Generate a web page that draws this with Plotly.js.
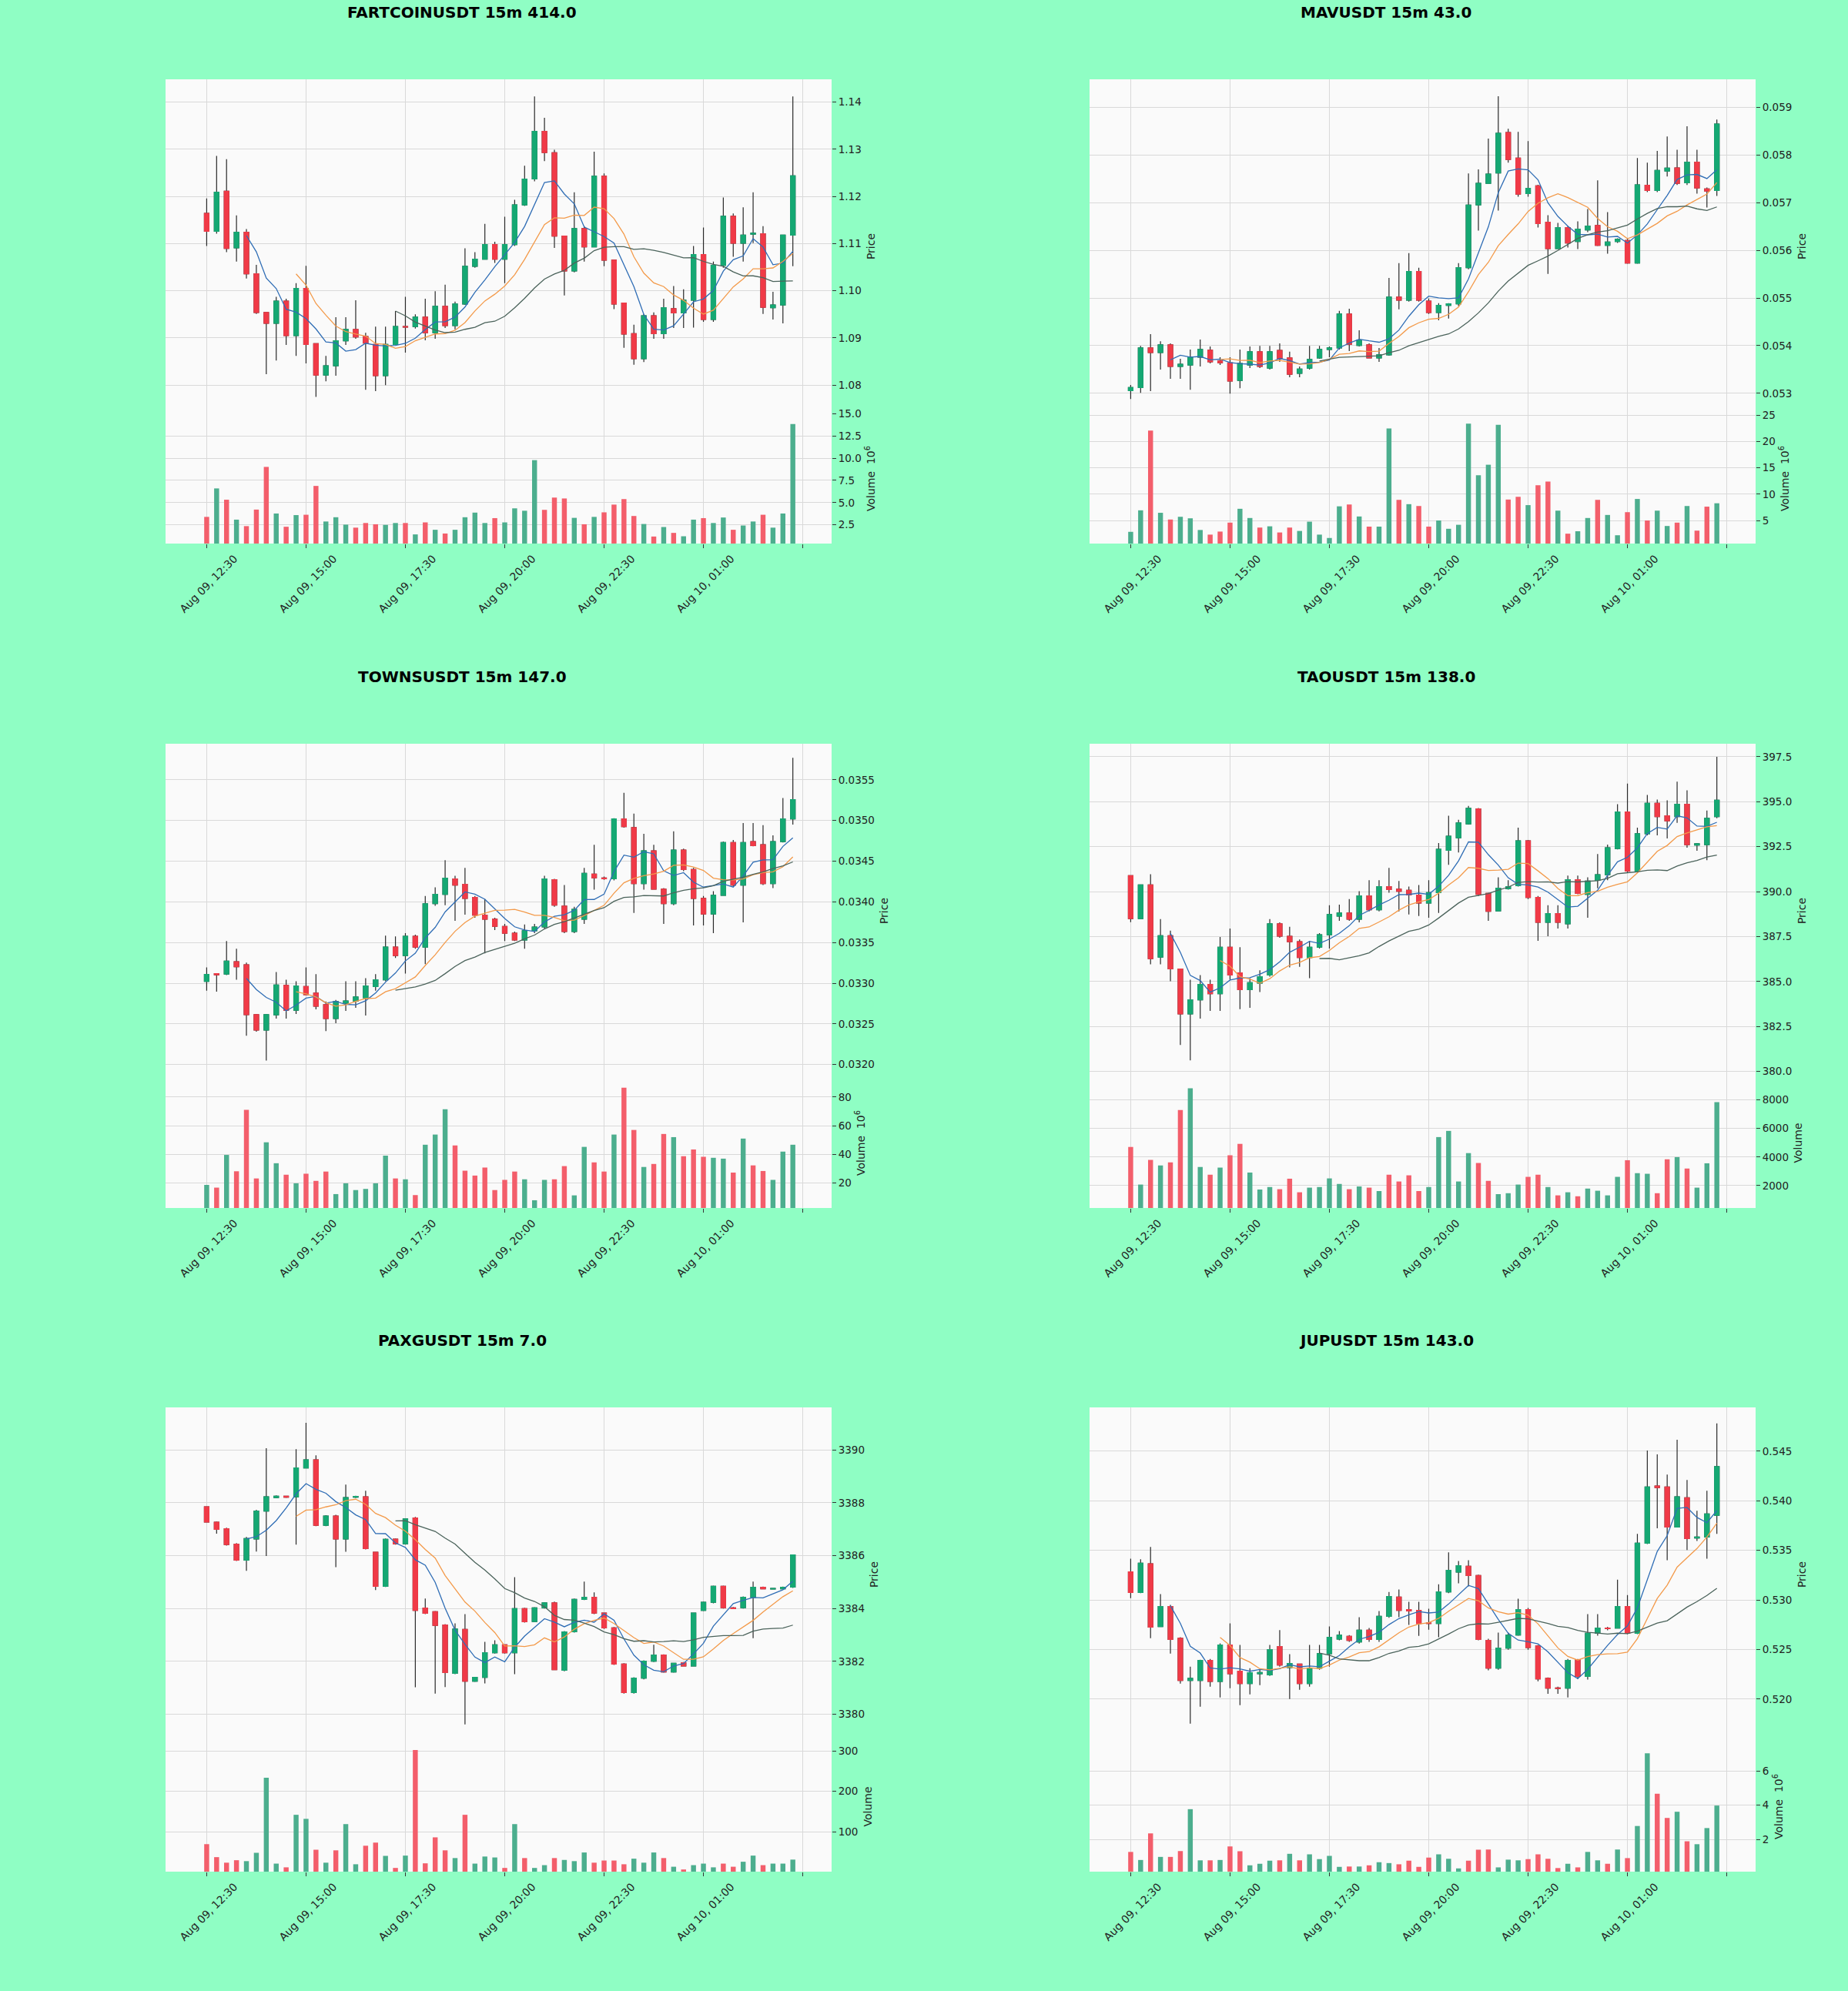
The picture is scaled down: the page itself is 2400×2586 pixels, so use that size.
<!DOCTYPE html>
<html>
<head>
<meta charset="utf-8">
<script src="https://cdn.plot.ly/plotly-3.0.1.min.js"></script>
<style>html,body{margin:0;padding:0;background:#8ffec4;}</style>
</head>
<body>
<div id="chart" style="width:2400px;height:2586px;"></div>
<script>
// ---------- tick labels ----------
const tickPositions = [0, 10, 20, 30, 40, 50, 60];
const tickLabels = ['Aug 09, 12:30', 'Aug 09, 15:00', 'Aug 09, 17:30', 'Aug 09, 20:00', 'Aug 09, 22:30', 'Aug 10, 01:00', '\u00a0'];

// ---------- FARTCOINUSDT ----------
const fartOpen  = [1.1164,1.1126,1.1211,1.1091,1.1124,1.1036,1.0954,1.0931,1.0978,1.0905,1.1005,1.0888,1.0821,1.0841,1.0894,1.0918,1.0903,1.0886,1.0820,1.0886,1.0924,1.0924,1.0944,1.0911,1.0967,1.0926,1.0972,1.1052,1.1067,1.1098,1.1067,1.1098,1.1182,1.1237,1.1338,1.1293,1.1116,1.1042,1.1132,1.1093,1.1243,1.1065,1.0974,1.0909,1.0856,1.0947,1.0909,1.0962,1.0953,1.0980,1.1077,1.0939,1.1054,1.1158,1.1101,1.1120,1.1121,1.0964,1.0970,1.1118];
const fartHigh  = [1.1196,1.1286,1.1279,1.1160,1.1131,1.1055,1.0955,1.0987,1.0983,1.1016,1.1053,1.0888,1.0862,1.0944,1.0944,1.0980,1.0911,1.0924,1.0924,1.0957,1.0987,1.0950,1.0983,1.0999,1.1013,1.0977,1.1090,1.1082,1.1142,1.1104,1.1157,1.1193,1.1265,1.1412,1.1367,1.1299,1.1117,1.1209,1.1137,1.1295,1.1249,1.1066,1.0975,1.0928,1.0951,1.0954,1.0983,1.1010,1.1003,1.1095,1.1134,1.1062,1.1198,1.1164,1.1177,1.1209,1.1137,1.0998,1.1118,1.1412];
const fartLow   = [1.1095,1.1121,1.1082,1.1062,1.1026,1.0951,1.0823,1.0852,1.0885,1.0862,1.0846,1.0775,1.0808,1.0820,1.0885,1.0898,1.0790,1.0787,1.0800,1.0885,1.0869,1.0920,1.0895,1.0898,1.0921,1.0918,1.0970,1.1049,1.1066,1.1059,1.1016,1.1095,1.1180,1.1232,1.1275,1.1091,1.0990,1.1039,1.1062,1.1092,1.1052,1.0961,1.0879,1.0843,1.0849,1.0898,1.0898,1.0921,1.0921,1.0922,1.0934,1.0934,1.1049,1.1072,1.1062,1.1101,1.0951,1.0939,1.0931,1.1052];
const fartClose = [1.1126,1.1209,1.1090,1.1124,1.1036,1.0954,1.0931,1.0978,1.0905,1.1005,1.0886,1.0821,1.0841,1.0894,1.0918,1.0902,1.0889,1.0820,1.0886,1.0924,1.0923,1.0944,1.0911,1.0967,1.0926,1.0972,1.1052,1.1067,1.1098,1.1067,1.1098,1.1182,1.1237,1.1338,1.1293,1.1116,1.1042,1.1132,1.1093,1.1243,1.1065,1.0972,1.0908,1.0856,1.0947,1.0909,1.0964,1.0953,1.0980,1.1077,1.0939,1.1054,1.1158,1.1101,1.1118,1.1122,1.0965,1.0970,1.1118,1.1244];
const fartVolume = [3.40,6.6,5.33,3.09,2.36,4.22,9.02,3.78,2.29,3.6,3.64,6.88,2.88,3.36,2.53,2.19,2.71,2.57,2.5,2.71,2.71,1.43,2.78,1.95,1.53,1.95,3.36,3.88,2.71,3.26,2.78,4.36,4.09,9.78,4.19,5.57,5.47,3.29,2.57,3.40,3.91,4.78,5.40,3.5,2.6,1.19,2.26,1.6,1.22,3.09,3.26,2.71,3.33,1.95,2.43,2.88,3.64,2.19,3.78,13.84];

// ---------- MAVUSDT ----------
const mavOpen  = [0.053059,0.053123,0.053952,0.053855,0.054017,0.053564,0.053596,0.053758,0.053907,0.053680,0.053641,0.053272,0.053596,0.053874,0.053531,0.053900,0.053745,0.053421,0.053531,0.053745,0.053920,0.053952,0.054664,0.054004,0.054017,0.053745,0.053809,0.055020,0.054955,0.055557,0.054935,0.054696,0.054845,0.054877,0.055635,0.056948,0.057401,0.057621,0.058469,0.057932,0.057188,0.057350,0.056586,0.056036,0.056476,0.056185,0.056424,0.056521,0.056101,0.056185,0.056204,0.055732,0.057363,0.057253,0.057660,0.057725,0.057414,0.057848,0.057285,0.057253];
const mavHigh  = [0.053175,0.053997,0.054243,0.054094,0.054049,0.053726,0.053920,0.054127,0.053984,0.053758,0.053758,0.053920,0.053984,0.053997,0.053997,0.054049,0.053874,0.053564,0.053997,0.053997,0.053984,0.054729,0.054774,0.054321,0.054049,0.053952,0.055421,0.055732,0.055939,0.055634,0.054987,0.054890,0.054890,0.055732,0.057609,0.057693,0.058340,0.059227,0.058547,0.058482,0.058288,0.057370,0.056735,0.056573,0.056508,0.056605,0.056864,0.057466,0.056800,0.056250,0.056250,0.057932,0.057835,0.058081,0.058385,0.058107,0.058599,0.058107,0.057317,0.058741];
const mavLow   = [0.052884,0.053013,0.053046,0.053499,0.053305,0.053305,0.053078,0.053564,0.053628,0.053596,0.052994,0.053110,0.053531,0.053531,0.053499,0.053661,0.053337,0.053337,0.053499,0.053725,0.053758,0.053920,0.053887,0.053984,0.053740,0.053661,0.053790,0.054761,0.054922,0.054922,0.054664,0.054534,0.054567,0.054826,0.055603,0.056411,0.057390,0.056832,0.057835,0.057123,0.057123,0.056476,0.055505,0.056023,0.056055,0.056023,0.056379,0.056088,0.055926,0.056152,0.055720,0.055720,0.057220,0.057220,0.057544,0.057369,0.057369,0.057188,0.056897,0.057136];
const mavClose = [0.053123,0.053952,0.053855,0.054017,0.053564,0.053609,0.053758,0.053920,0.053661,0.053641,0.053259,0.053628,0.053874,0.053564,0.053874,0.053725,0.053402,0.053512,0.053712,0.053920,0.053952,0.054664,0.054030,0.054114,0.053745,0.053809,0.055020,0.054955,0.055557,0.054955,0.054696,0.054845,0.054877,0.055635,0.056948,0.057401,0.057596,0.058450,0.057900,0.057175,0.057298,0.056560,0.056036,0.056476,0.056152,0.056444,0.056508,0.056101,0.056172,0.056230,0.055732,0.057369,0.057253,0.057673,0.057719,0.057401,0.057848,0.057304,0.057240,0.058644];
const mavVolume = [2.84,6.93,22.1,6.46,5.18,5.7,5.41,3.19,2.31,2.89,4.59,7.22,5.47,3.65,3.89,2.72,3.65,3.01,4.77,2.31,1.67,7.69,8.04,5.76,3.83,3.83,22.5,8.92,8.1,7.75,3.83,5.0,3.42,4.18,23.4,13.6,15.6,23.2,8.98,9.5,7.92,11.7,12.4,6.87,2.49,2.95,5.47,8.92,6.05,2.19,6.58,9.09,5.0,6.87,3.95,4.59,7.75,3.07,7.63,8.27];

// ---------- TOWNSUSDT ----------
const townsOpen  = [0.033023,0.033118,0.033111,0.033263,0.033225,0.032614,0.032423,0.032611,0.032973,0.032668,0.032958,0.032878,0.032736,0.032565,0.032756,0.032782,0.032820,0.032958,0.033042,0.033443,0.033340,0.033576,0.033443,0.033977,0.034092,0.034282,0.034214,0.034053,0.033836,0.033786,0.033698,0.033614,0.033530,0.033645,0.033691,0.034271,0.033947,0.033634,0.033786,0.034340,0.034294,0.034282,0.035019,0.034912,0.034225,0.034626,0.034156,0.033977,0.034637,0.034397,0.034042,0.033851,0.034080,0.034729,0.034206,0.034740,0.034702,0.034225,0.034740,0.035019];
const townsHigh  = [0.033195,0.033118,0.033519,0.033424,0.033252,0.032622,0.032622,0.033137,0.033042,0.033023,0.033195,0.033111,0.032775,0.032794,0.033023,0.033023,0.033061,0.033111,0.033584,0.033576,0.033614,0.033595,0.034072,0.034179,0.034511,0.034321,0.034416,0.034072,0.034034,0.033805,0.033729,0.033633,0.033722,0.033729,0.034321,0.034282,0.034206,0.033939,0.034416,0.034702,0.034310,0.035027,0.035340,0.035084,0.034836,0.034702,0.034168,0.034866,0.034653,0.034416,0.034072,0.034130,0.034740,0.034759,0.034969,0.034969,0.034943,0.034817,0.035275,0.035771];
const townsLow   = [0.032908,0.032897,0.033099,0.033042,0.032355,0.032404,0.032049,0.032565,0.032565,0.032622,0.032851,0.032679,0.032412,0.032508,0.032660,0.032698,0.032603,0.032908,0.033023,0.033309,0.033118,0.033424,0.033233,0.033950,0.033958,0.033767,0.033843,0.033805,0.033366,0.033653,0.033519,0.033519,0.033424,0.033614,0.033672,0.033939,0.033614,0.033614,0.033729,0.034149,0.034270,0.034263,0.034912,0.033863,0.034149,0.034149,0.033729,0.033958,0.034378,0.033710,0.033710,0.033614,0.034073,0.034187,0.033748,0.034683,0.034206,0.034168,0.034729,0.034950];
const townsClose = [0.033107,0.033103,0.033271,0.033202,0.032614,0.032423,0.032614,0.032977,0.032668,0.032966,0.032859,0.032717,0.032565,0.032775,0.032782,0.032832,0.032966,0.033042,0.033443,0.033340,0.033576,0.033443,0.033977,0.034092,0.034290,0.034206,0.034042,0.033836,0.033786,0.033698,0.033614,0.033530,0.033645,0.033691,0.034282,0.033958,0.033634,0.033908,0.034351,0.034294,0.034283,0.035019,0.034924,0.034225,0.034626,0.034156,0.033977,0.034637,0.034397,0.034042,0.033851,0.034080,0.034729,0.034206,0.034729,0.034691,0.034225,0.034740,0.035019,0.035256];
const townsVolume = [18.7,16.8,39.6,28.2,71.0,23.2,48.4,33.8,25.8,19.8,26.5,21.5,28.0,12.3,19.8,15.1,15.9,19.8,39.1,23.2,22.6,11.6,46.7,53.8,71.4,46.2,28.6,25.2,30.8,15.1,22.2,28.0,22.6,8.0,22.2,22.6,31.8,11.4,45.2,34.4,28.0,53.8,86.5,57.0,31.2,33.3,54.2,52.0,38.7,43.4,38.3,37.6,37.0,27.3,51.0,32.3,28.4,22.2,41.9,46.7];

// ---------- TAOUSDT ----------
const taoOpen  = [390.89,388.50,390.37,386.36,387.55,385.70,383.20,383.98,384.84,384.32,386.91,385.48,384.55,384.91,385.36,388.21,387.52,387.21,386.34,386.91,387.60,388.64,388.81,388.47,389.76,388.99,390.28,390.14,390.07,389.81,389.37,389.94,392.30,392.99,393.77,394.60,389.90,388.93,390.16,390.33,392.82,389.68,388.29,388.78,388.21,390.66,389.85,390.63,390.94,392.39,394.43,391.14,393.22,394.91,394.22,394.17,394.86,392.59,392.61,394.17];
const taoHigh  = [390.89,390.40,390.97,388.47,387.83,385.70,385.10,385.36,385.10,387.48,387.95,386.91,385.19,385.62,388.47,388.29,388.04,387.34,387.26,387.69,389.24,389.28,389.59,390.02,390.63,390.63,391.32,390.59,390.28,390.37,390.63,392.70,394.22,394.00,394.77,394.65,389.94,390.80,390.63,393.56,392.87,389.76,389.24,389.24,390.89,390.89,390.80,392.09,392.61,394.86,396.01,393.56,395.38,395.12,395.08,396.12,395.63,392.70,394.51,397.50];
const taoLow   = [388.30,388.47,385.96,385.96,385.01,381.47,380.61,382.94,383.37,383.37,385.10,383.46,383.54,384.41,385.27,387.43,385.79,385.82,385.19,386.83,386.83,388.38,388.38,388.29,388.90,388.90,389.94,388.90,388.73,388.64,388.55,388.81,391.49,392.18,393.73,389.76,388.38,388.90,390.11,390.28,389.59,387.26,387.52,387.95,387.95,389.85,388.55,390.19,390.63,392.35,391.06,391.06,393.13,393.13,392.96,393.82,392.44,392.27,391.75,394.08];
const taoClose = [388.50,390.37,386.27,387.55,385.70,383.20,383.98,384.84,384.32,386.91,385.36,384.55,384.93,385.27,388.21,387.52,387.21,386.34,386.91,387.60,388.73,388.81,388.47,389.76,388.99,390.28,390.11,390.02,389.81,389.37,389.94,392.35,393.08,393.82,394.63,389.85,388.90,390.19,390.28,392.82,389.68,388.29,388.78,388.29,390.66,389.90,390.59,390.94,392.44,394.43,391.14,393.22,394.91,394.17,393.94,394.86,392.61,392.66,394.08,395.08];
const taoVolume = [4704,2072,3798,3410,3625,7294,8805,3302,2762,3259,4122,4920,2913,1726,1899,1748,2482,1532,1856,1899,2503,2115,1748,1942,1856,1619,2762,2287,2719,1619,1899,5395,5827,2287,4273,3582,2331,1403,1467,2072,2611,2762,1899,1316,1532,1252,1791,1640,1316,2611,3776,2870,2827,1467,3841,3992,3194,1856,3561,7834];

// ---------- PAXGUSDT ----------
const paxgOpen  = [3387.85,3387.27,3387.02,3386.44,3385.83,3386.63,3387.69,3388.20,3388.25,3388.23,3389.32,3389.63,3387.15,3387.50,3386.63,3388.21,3388.23,3386.13,3384.84,3386.63,3386.45,3387.43,3384.02,3383.88,3383.38,3381.55,3383.21,3381.25,3381.40,3382.33,3382.63,3382.33,3384.00,3383.51,3384.03,3384.22,3381.67,3383.12,3384.35,3384.43,3383.83,3383.27,3381.90,3380.82,3381.37,3382.01,3382.24,3381.60,3381.95,3381.83,3383.93,3384.24,3384.84,3384.03,3384.03,3384.43,3384.81,3384.74,3384.75,3384.81];
const paxgHigh  = [3387.85,3387.29,3387.06,3386.48,3386.71,3387.74,3390.07,3388.28,3388.27,3390.03,3391.03,3389.80,3387.53,3387.55,3388.69,3388.27,3388.46,3386.15,3386.65,3386.65,3387.41,3387.47,3384.38,3383.91,3383.41,3383.44,3383.79,3381.42,3382.74,3382.80,3382.65,3385.19,3384.03,3384.05,3384.24,3384.26,3383.15,3384.38,3385.02,3384.61,3383.85,3383.30,3381.93,3381.40,3382.04,3382.63,3382.27,3381.95,3381.98,3383.85,3384.26,3384.87,3384.87,3384.06,3384.46,3385.02,3384.83,3384.78,3384.83,3386.05];
const paxgLow   = [3387.27,3386.83,3386.38,3385.80,3385.43,3386.16,3385.99,3388.17,3388.19,3386.42,3389.30,3387.12,3387.12,3385.57,3386.15,3388.18,3386.24,3384.70,3384.82,3386.42,3386.42,3381.02,3383.79,3380.78,3381.03,3381.52,3379.62,3381.23,3381.17,3382.30,3382.30,3381.52,3383.47,3383.50,3384.00,3381.67,3381.63,3383.09,3384.32,3383.79,3383.23,3381.87,3380.78,3380.78,3381.32,3381.98,3381.58,3381.58,3381.81,3381.81,3383.91,3384.20,3384.00,3383.98,3384.00,3382.88,3384.73,3384.72,3384.73,3384.78];
const paxgClose = [3387.27,3387.00,3386.42,3385.83,3386.65,3387.69,3388.23,3388.25,3388.21,3389.32,3389.63,3387.15,3387.50,3386.63,3388.20,3388.24,3386.27,3384.84,3386.62,3386.45,3387.39,3383.93,3383.82,3383.36,3381.58,3383.23,3381.25,3381.40,3382.33,3382.63,3382.33,3384.00,3383.50,3384.03,3384.22,3381.69,3383.12,3384.35,3384.43,3383.83,3383.27,3381.90,3380.82,3381.37,3382.01,3382.24,3381.60,3381.93,3381.83,3383.83,3384.24,3384.84,3384.03,3384.00,3384.43,3384.81,3384.75,3384.76,3384.81,3386.03];
const paxgVolume = [69.5,37.4,23.7,29.8,27.5,48.1,233.6,21.4,12.2,142,132,55.7,23.7,54.2,119,19.8,65.6,73.3,40.5,10.7,41.2,302,22.1,86.3,54.2,35.1,142,21.4,38.9,36.6,10.7,119,35.1,10.7,17.6,35.1,30.5,27.5,48.9,23.7,29.0,29.0,19.8,33.6,23.7,48.9,35.1,13.7,6.9,17.6,21.4,12.2,21.4,13.7,26.0,41.2,17.6,21.4,21.4,31.3];

// ---------- JUPUSDT ----------
const jupOpen  = [0.532828,0.530742,0.533638,0.527318,0.529342,0.526135,0.521870,0.521870,0.523894,0.521777,0.525450,0.522810,0.521559,0.522550,0.522430,0.525294,0.523180,0.523520,0.521559,0.523116,0.524579,0.526040,0.526320,0.525760,0.526945,0.526010,0.528345,0.530276,0.529030,0.528937,0.527660,0.527629,0.530805,0.532800,0.533390,0.532455,0.525917,0.523116,0.525139,0.526447,0.529030,0.525360,0.522090,0.521120,0.521093,0.523950,0.522275,0.526630,0.527160,0.527163,0.529342,0.526633,0.535723,0.541480,0.541389,0.537342,0.540300,0.536250,0.536346,0.538525];
const jupHigh  = [0.534167,0.534105,0.535350,0.530587,0.529500,0.526230,0.523272,0.523956,0.524050,0.525606,0.527629,0.525450,0.523110,0.522960,0.525450,0.526945,0.524520,0.523580,0.525450,0.525450,0.527318,0.526850,0.526450,0.528252,0.527160,0.528875,0.530805,0.531050,0.529800,0.529800,0.529100,0.531583,0.534789,0.533920,0.534010,0.532550,0.526080,0.526696,0.526700,0.530120,0.529190,0.525450,0.522180,0.521250,0.524050,0.524050,0.528563,0.528563,0.527290,0.532050,0.530494,0.536657,0.545062,0.544689,0.542634,0.546152,0.542105,0.538990,0.541015,0.547802];
const jupLow   = [0.530182,0.530680,0.526135,0.527256,0.524579,0.521560,0.517512,0.519224,0.521250,0.520158,0.521090,0.519380,0.520470,0.521400,0.522340,0.523270,0.520003,0.520940,0.521250,0.522960,0.523270,0.525920,0.525760,0.525600,0.525760,0.525760,0.528190,0.528250,0.527480,0.526380,0.527000,0.526229,0.530680,0.531680,0.531370,0.525920,0.522900,0.522960,0.524980,0.526390,0.524980,0.521780,0.520530,0.520530,0.520160,0.522030,0.521970,0.526390,0.526940,0.527100,0.526540,0.526540,0.535630,0.537218,0.534011,0.537310,0.535038,0.535940,0.534167,0.536657];
const jupClose = [0.530742,0.533700,0.527256,0.529342,0.526010,0.521870,0.522088,0.523894,0.521777,0.525450,0.522555,0.521559,0.522649,0.522670,0.524983,0.523427,0.523583,0.521559,0.523116,0.524579,0.526229,0.526447,0.525917,0.526945,0.526010,0.528345,0.530338,0.528937,0.528880,0.527629,0.527630,0.530805,0.532984,0.533451,0.532455,0.526010,0.523116,0.525139,0.526447,0.529030,0.525201,0.522026,0.521093,0.521060,0.523894,0.522275,0.526633,0.527163,0.527100,0.529342,0.526633,0.535723,0.541389,0.541330,0.537342,0.540393,0.536190,0.536350,0.538681,0.543443];
const jupVolume = [1.28,0.81,2.36,0.99,0.99,1.33,3.77,0.79,0.79,0.81,1.60,1.32,0.50,0.59,0.77,0.79,1.17,0.79,1.14,0.86,1.05,0.41,0.43,0.43,0.50,0.68,0.63,0.56,0.77,0.41,0.95,1.14,0.88,0.32,0.77,1.41,1.42,0.38,0.83,0.79,0.86,1.14,0.88,0.34,0.59,0.38,1.28,0.79,0.59,1.42,0.92,2.79,7.03,4.67,3.26,3.62,1.90,1.73,2.67,3.98];

// ---------- panel configuration ----------
const panels = [
  {title:'FARTCOINUSDT 15m 414.0', o:fartOpen, h:fartHigh, l:fartLow, c:fartClose, v:fartVolume,
   pRange:[1.07398,1.14485], pDtick:0.01, pFmt:'.2f', vRange:[0.40,15.03], vDtick:2.5, vFmt:'.1f', vTitle:'Volume  10<sup>6</sup>'},
  {title:'MAVUSDT 15m 43.0', o:mavOpen, h:mavHigh, l:mavLow, c:mavClose, v:mavVolume,
   pRange:[0.05258,0.059582], pDtick:0.001, pFmt:'.3f', vRange:[0.61,25.35], vDtick:5, vFmt:'d', vTitle:'Volume  10<sup>6</sup>'},
  {title:'TOWNSUSDT 15m 147.0', o:townsOpen, h:townsHigh, l:townsLow, c:townsClose, v:townsVolume,
   pRange:[0.031836,0.035943], pDtick:0.0005, pFmt:'.4f', vRange:[2.6,93.3], vDtick:20, vFmt:'d', vTitle:'Volume  10<sup>6</sup>'},
  {title:'TAOUSDT 15m 138.0', o:taoOpen, h:taoHigh, l:taoLow, c:taoClose, v:taoVolume,
   pRange:[379.64,398.225], pDtick:2.5, pFmt:'.1f', vRange:[432,9538], vDtick:2000, vFmt:'d', vTitle:'Volume'},
  {title:'PAXGUSDT 15m 7.0', o:paxgOpen, h:paxgHigh, l:paxgLow, c:paxgClose, v:paxgVolume,
   pRange:[3378.97,3391.61], pDtick:2, pFmt:'d', vRange:[1.5,323], vDtick:100, vFmt:'d', vTitle:'Volume'},
  {title:'JUPUSDT 15m 143.0', o:jupOpen, h:jupHigh, l:jupLow, c:jupClose, v:jupVolume,
   pRange:[0.51571,0.54942], pDtick:0.005, pFmt:'.3f', vRange:[0.13,7.71], vDtick:2, vFmt:'d', vTitle:'Volume  10<sup>6</sup>'}
];

// ---------- style ----------
const W = 2400, H = 2586;
const GREEN = '#15a873', RED = '#f03a47';
const VGREEN = '#4cae8e', VRED = '#f35e6b';
const WICK = '#2a2a2a';
const MA_COLORS = ['#2f6db5', '#f39a4a', '#4b635b'];
const MA_PERIODS = [5, 10, 20];
const FONT = 'DejaVu Sans';
const GRID = '#d9d9d9';

const colX = [[215, 1080], [1415, 2280]];
const rowY = [[103, 537, 706], [966, 1400, 1569], [1828, 2262, 2431]];
const titleY = [16, 879, 1741];
const titleX = [600, 1800];

function sma(vals, n) {
  return vals.map((_, i) => {
    if (i < n - 1) return null;
    let s = 0;
    for (let k = i - n + 1; k <= i; k++) s += vals[k];
    return s / n;
  });
}

const traces = [];
const layout = {
  width: W, height: H,
  margin: {l: 0, r: 0, t: 0, b: 0},
  paper_bgcolor: '#8ffec4',
  plot_bgcolor: '#fafafa',
  showlegend: false,
  boxgap: 0.34,
  barmode: 'overlay',
  font: {family: FONT, size: 14, color: '#222'},
  annotations: []
};

panels.forEach((p, i) => {
  const col = i % 2, row = Math.floor(i / 2);
  const nP = 2 * i + 1, nV = 2 * i + 2;
  const xP = nP === 1 ? 'x' : 'x' + nP, yP = nP === 1 ? 'y' : 'y' + nP;
  const xV = 'x' + nV, yV = 'y' + nV;
  const idx = p.c.map((_, k) => k);
  const xd = [colX[col][0] / W, colX[col][1] / W];
  const [top, mid, bot] = rowY[row];
  const pDom = [1 - mid / H, 1 - top / H];
  const vDom = [1 - bot / H, 1 - mid / H];
  const xRange = [-4.14, 62.9];

  // wicks
  traces.push({
    type: 'candlestick', x: idx, open: p.o, high: p.h, low: p.l, close: p.c,
    xaxis: xP, yaxis: yP, whiskerwidth: 0, hoverinfo: 'skip',
    increasing: {line: {color: WICK, width: 1.2}, fillcolor: 'rgba(0,0,0,0)'},
    decreasing: {line: {color: WICK, width: 1.2}, fillcolor: 'rgba(0,0,0,0)'}
  });
  // bodies
  traces.push({
    type: 'candlestick', x: idx, open: p.o, close: p.c,
    high: p.o.map((v, k) => Math.max(v, p.c[k])),
    low: p.o.map((v, k) => Math.min(v, p.c[k])),
    xaxis: xP, yaxis: yP, whiskerwidth: 0, hoverinfo: 'skip',
    increasing: {line: {color: GREEN, width: 1.2}, fillcolor: GREEN},
    decreasing: {line: {color: RED, width: 1.2}, fillcolor: RED}
  });
  // moving averages
  MA_PERIODS.forEach((n, m) => {
    traces.push({
      type: 'scatter', mode: 'lines', x: idx, y: sma(p.c, n),
      xaxis: xP, yaxis: yP, line: {color: MA_COLORS[m], width: 1.3},
      hoverinfo: 'skip', connectgaps: false
    });
  });
  // volume
  traces.push({
    type: 'bar', x: idx, y: p.v, xaxis: xV, yaxis: yV, width: 0.5,
    marker: {color: p.c.map((c, k) => c >= p.o[k] ? VGREEN : VRED), line: {width: 0}},
    hoverinfo: 'skip'
  });

  const axKeyX = nP === 1 ? 'xaxis' : 'xaxis' + nP;
  const axKeyY = nP === 1 ? 'yaxis' : 'yaxis' + nP;
  layout[axKeyX] = {
    domain: xd, range: xRange, anchor: yP,
    tickmode: 'array', tickvals: tickPositions, ticktext: tickLabels,
    showticklabels: false, ticks: '', showgrid: true, gridcolor: GRID, gridwidth: 1,
    zeroline: false, showline: false, rangeslider: {visible: false}, fixedrange: true
  };
  layout[axKeyY] = {
    domain: pDom, range: p.pRange, anchor: xP, side: 'right',
    dtick: p.pDtick, tick0: 0, tickformat: p.pFmt,
    ticks: 'outside', ticklen: 5, tickcolor: '#333', tickwidth: 1,
    tickfont: {family: FONT, size: 13.5, color: '#222'},
    showgrid: true, gridcolor: GRID, gridwidth: 1, zeroline: false, showline: false,
    title: {text: 'Price', font: {family: FONT, size: 14, color: '#222'}, standoff: 8},
    fixedrange: true
  };
  layout['xaxis' + nV] = {
    domain: xd, range: xRange, anchor: yV,
    tickmode: 'array', tickvals: tickPositions, ticktext: tickLabels,
    tickangle: -45, ticklabelshift: 36,
    ticks: 'outside', ticklen: 5, tickcolor: '#333', tickwidth: 1,
    tickfont: {family: FONT, size: 14, color: '#222'},
    showgrid: true, gridcolor: GRID, gridwidth: 1, zeroline: false, showline: false,
    fixedrange: true
  };
  layout['yaxis' + nV] = {
    domain: vDom, range: p.vRange, anchor: xV, side: 'right',
    dtick: p.vDtick, tick0: 0, tickformat: p.vFmt,
    ticks: 'outside', ticklen: 5, tickcolor: '#333', tickwidth: 1,
    tickfont: {family: FONT, size: 13.5, color: '#222'},
    showgrid: true, gridcolor: GRID, gridwidth: 1, zeroline: false, showline: false,
    title: {text: p.vTitle, font: {family: FONT, size: 14, color: '#222'}, standoff: 8},
    fixedrange: true
  };

  layout.annotations.push({
    text: '<b>' + p.title + '</b>', xref: 'paper', yref: 'paper',
    x: titleX[col] / W, y: 1 - titleY[row] / H, xanchor: 'center', yanchor: 'middle',
    showarrow: false, font: {family: FONT, size: 20, color: '#000'}
  });
});

Plotly.newPlot('chart', traces, layout, {displayModeBar: false, staticPlot: true});
</script>
</body>
</html>
